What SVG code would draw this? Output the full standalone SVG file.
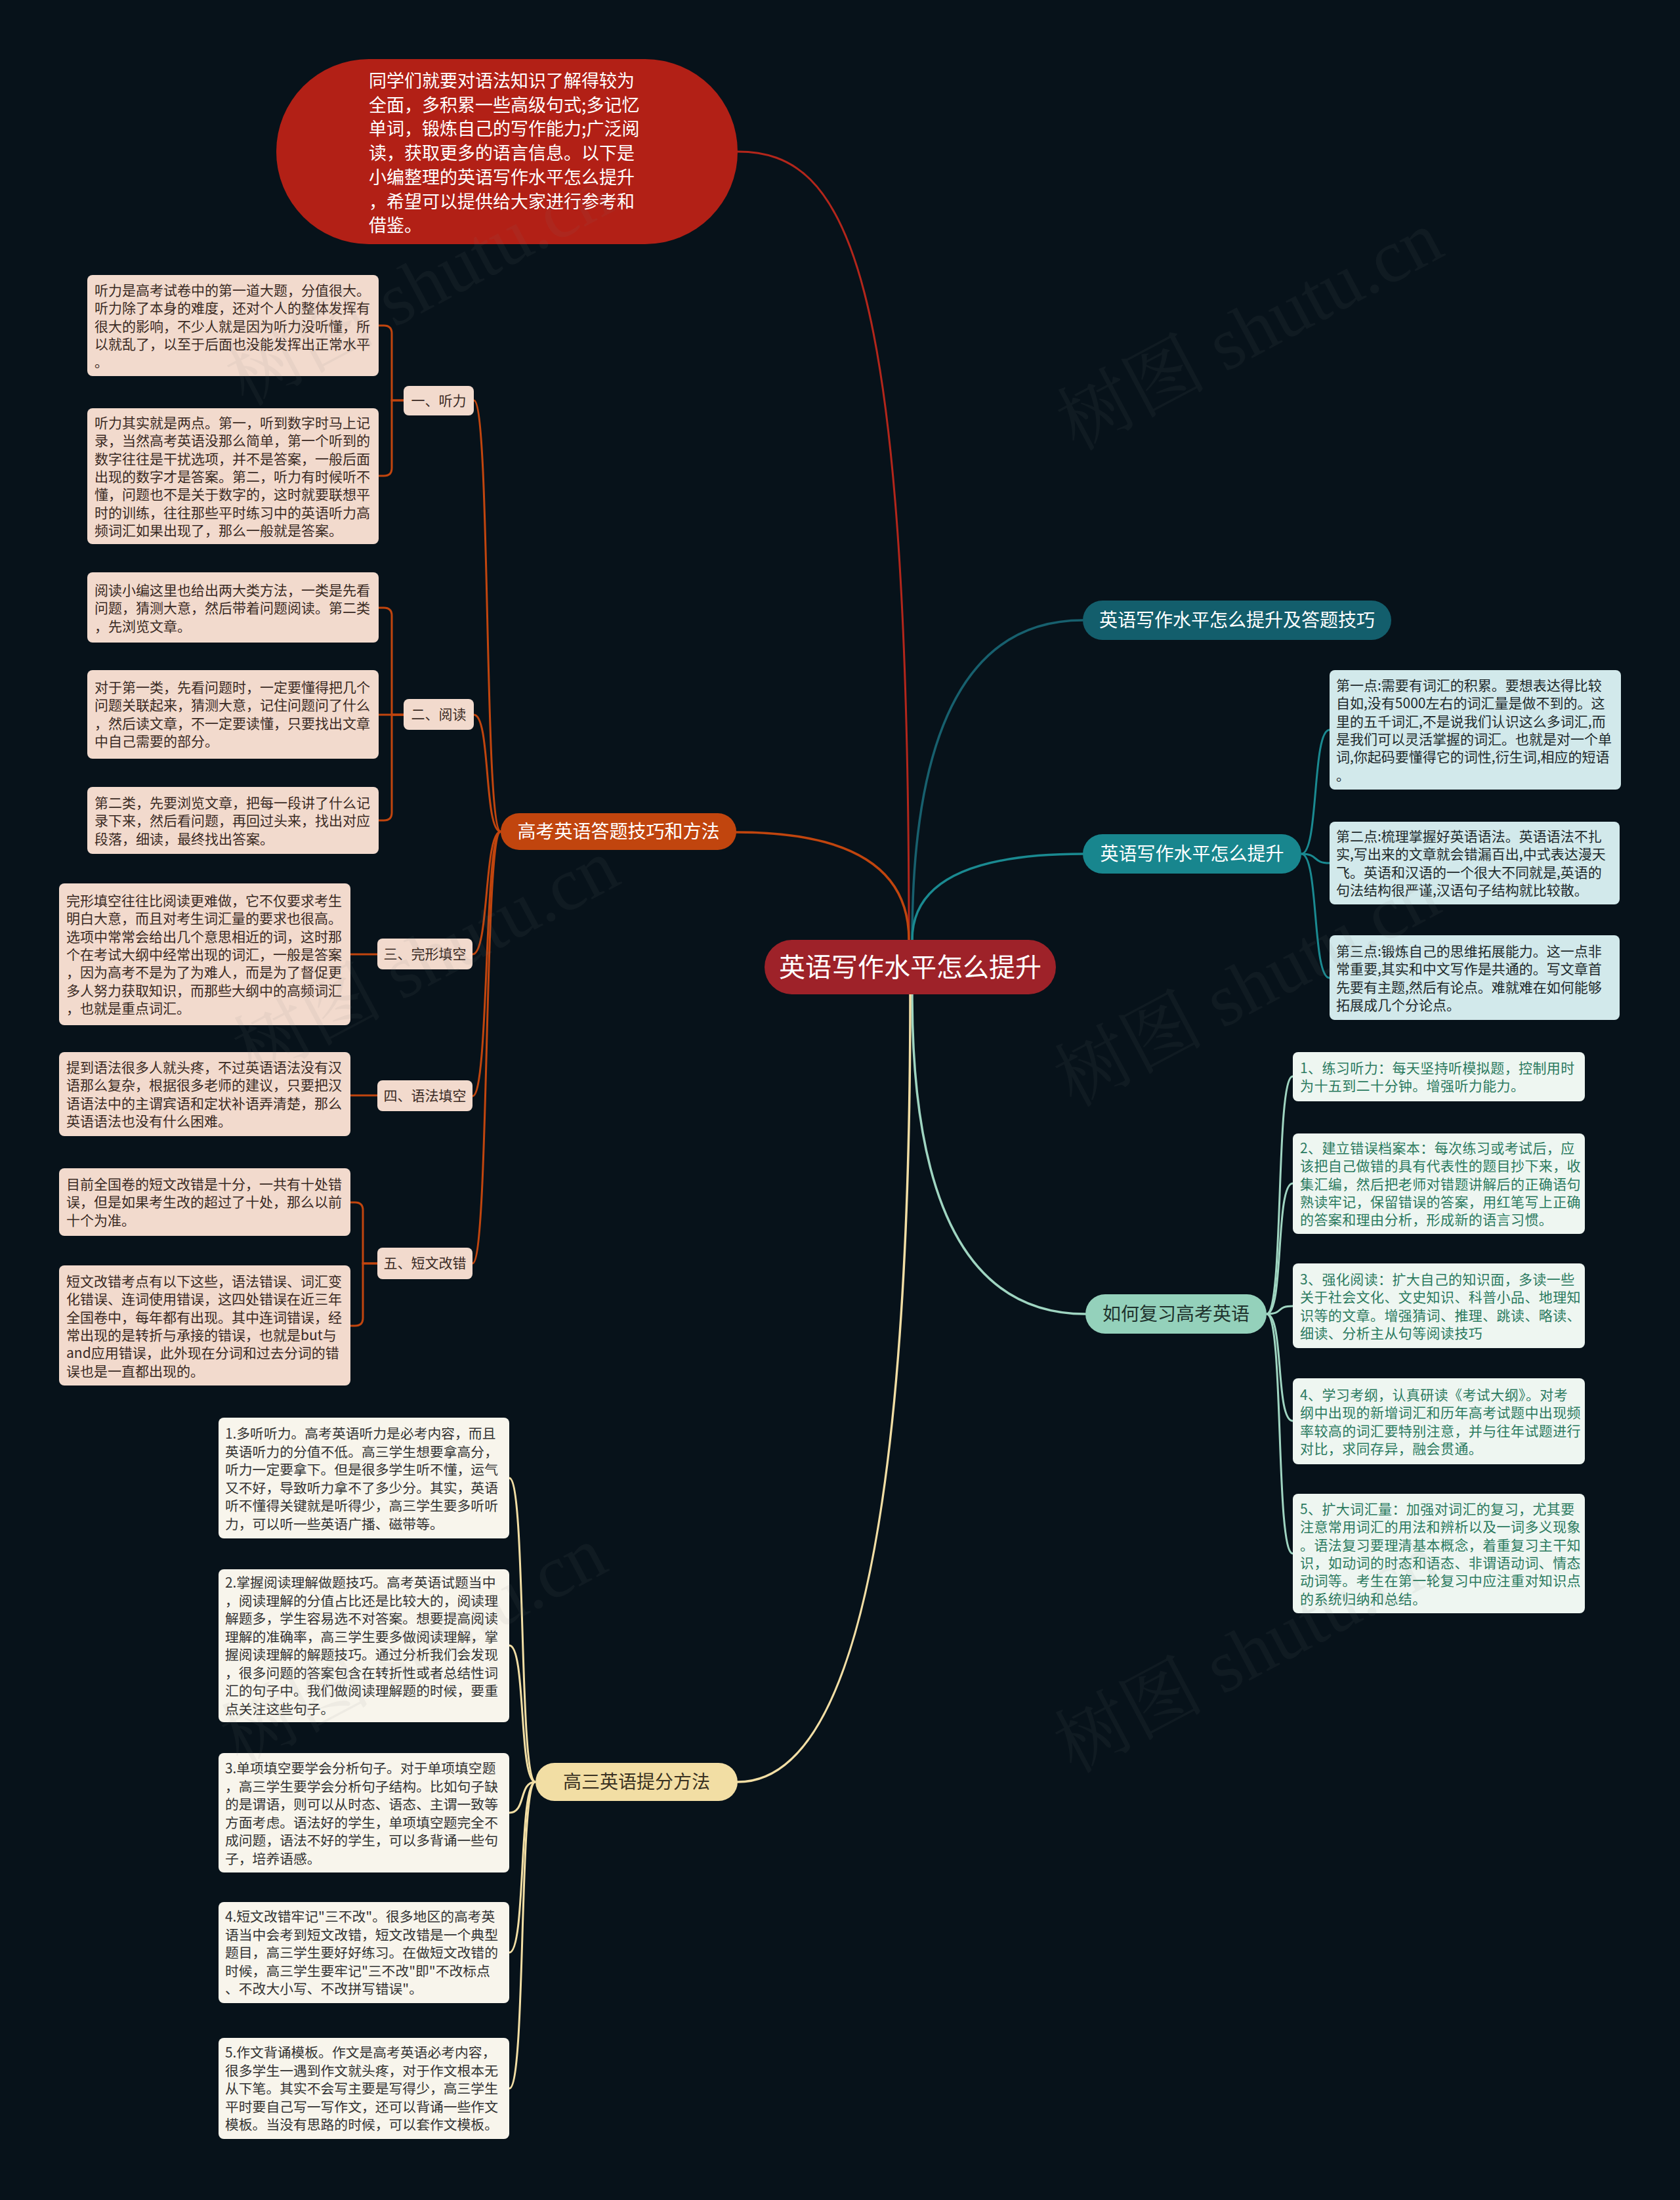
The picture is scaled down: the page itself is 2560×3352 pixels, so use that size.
<svg xmlns="http://www.w3.org/2000/svg" width="2560" height="3352" viewBox="0 0 2560 3352">
<style>
text{font-family:"Noto Sans CJK SC","Noto Sans",sans-serif}
.c{fill:none;stroke-linecap:round}
.leaf{font-size:21px;fill:#3a2a24}
.lo{fill:#f2dacd}
.ly{fill:#f8f5ec}
.lt{fill:#d2e9eb}
.lm{fill:#eef6f1}
.gs{font-size:20.8px;fill:#333}
.gm{font-size:21px;fill:#2b7a5f;letter-spacing:0.4px}
.gt{font-size:21px;fill:#1e2a2c}
.sub{font-size:21px;fill:#3a2a24;text-anchor:middle}
.main{font-size:28px;text-anchor:middle}
.wm{font-family:"Liberation Serif","Noto Serif CJK SC","Noto Sans CJK SC",serif;font-size:114px;fill:#808080;opacity:0.08}
</style>
<rect width="2560" height="3352" fill="#07121a"/>

<g id="connectors">
  <path class="c" d="M1124 231 C1290 231 1385 400 1385 1432" stroke="#b3261b" stroke-width="3"/>
  <path class="c" d="M1122 1268 Q1385 1268 1385 1432" stroke="#c1450e" stroke-width="3.5"/>
  <path class="c" d="M1390 1432 Q1390 945 1650 945" stroke="#17606e" stroke-width="3.5"/>
  <path class="c" d="M1390 1432 Q1390 1301 1650 1301" stroke="#1a8a91" stroke-width="3.5"/>
  <path class="c" d="M1390 1515 Q1390 2002 1654 2002" stroke="#9fd5c1" stroke-width="3.5"/>
  <path class="c" d="M1387 1515 Q1387 2715 1124 2715" stroke="#f2dea4" stroke-width="3.5"/>
  <g stroke="#c1450e" stroke-width="3" fill="none">
    <path d="M763 1267 C737 1267 748 610 722 610"/>
    <path d="M763 1267 C737 1267 748 1089 722 1089"/>
    <path d="M763 1267 C737 1267 746 1454 720 1454"/>
    <path d="M763 1267 C737 1267 746 1670 720 1670"/>
    <path d="M763 1267 C737 1267 746 1925 720 1925"/>
    <path d="M615 610 H597 V508 Q597 496 585 496 H577"/>
    <path d="M615 610 H597 V713 Q597 725 585 725 H577"/>
    <path d="M615 1089 H597 V938 Q597 926 585 926 H577"/>
    <path d="M615 1089 H577"/>
    <path d="M615 1089 H597 V1238 Q597 1250 585 1250 H577"/>
    <path d="M575 1454 H534"/>
    <path d="M575 1669 H534"/>
    <path d="M575 1925 H553 V1844 Q553 1832 541 1832 H534"/>
    <path d="M575 1925 H553 V2008 Q553 2020 541 2020 H534"/>
  </g>
  <g stroke="#1a8a91" stroke-width="3" fill="none">
    <path d="M1983 1301 C2010 1301 1999 1112 2026 1112"/>
    <path d="M1983 1301 C2010 1301 1999 1315 2026 1315"/>
    <path d="M1983 1301 C2010 1301 1999 1490 2026 1490"/>
  </g>
  <g stroke="#9fd5c1" stroke-width="3" fill="none">
    <path d="M1930 2002 C1957 2002 1943 1640 1970 1640"/>
    <path d="M1930 2002 C1957 2002 1943 1803 1970 1803"/>
    <path d="M1930 2002 C1957 2002 1943 1990 1970 1990"/>
    <path d="M1930 2002 C1957 2002 1943 2165 1970 2165"/>
    <path d="M1930 2002 C1957 2002 1943 2367 1970 2367"/>
  </g>
  <g stroke="#f2dea4" stroke-width="3" fill="none">
    <path d="M816 2715 C790 2715 802 2252 776 2252"/>
    <path d="M816 2715 C790 2715 802 2507 776 2507"/>
    <path d="M816 2715 C790 2715 802 2762 776 2762"/>
    <path d="M816 2715 C790 2715 802 2975 776 2975"/>
    <path d="M816 2715 C790 2715 802 3182 776 3182"/>
  </g>
</g>

<g id="center">
  <rect x="1165" y="1432" width="444" height="83" rx="41.5" fill="#9e2229"/>
  <text x="1387" y="1488" font-size="40" fill="#fff" text-anchor="middle">英语写作水平怎么提升</text>
</g>

<g id="intro">
  <rect x="421" y="90" width="703" height="282" rx="141" fill="#b22016"/>
  <text font-size="27" fill="#fff">
    <tspan x="562" y="133">同学们就要对语法知识了解得较为</tspan>
    <tspan x="562" dy="36.7">全面，多积累一些高级句式;多记忆</tspan>
    <tspan x="562" dy="36.7">单词，锻炼自己的写作能力;广泛阅</tspan>
    <tspan x="562" dy="36.7">读，获取更多的语言信息。以下是</tspan>
    <tspan x="562" dy="36.7">小编整理的英语写作水平怎么提升</tspan>
    <tspan x="562" dy="36.7">，希望可以提供给大家进行参考和</tspan>
    <tspan x="562" dy="36.7">借鉴。</tspan>
  </text>
</g>

<g id="b-gaokao">
  <rect x="763" y="1239" width="359" height="56" rx="28" fill="#c1450e"/>
  <text class="main" x="942.5" y="1277" fill="#fff">高考英语答题技巧和方法</text>
</g>
<g id="b-jiqiao">
  <rect x="1650" y="915" width="470" height="60" rx="30" fill="#135e6c"/>
  <text class="main" x="1885" y="955" fill="#fff">英语写作水平怎么提升及答题技巧</text>
</g>
<g id="b-tisheng">
  <rect x="1650" y="1271" width="333" height="60" rx="30" fill="#18868e"/>
  <text class="main" x="1816.5" y="1311" fill="#fff">英语写作水平怎么提升</text>
</g>
<g id="b-fuxi">
  <rect x="1654" y="1972" width="276" height="60" rx="30" fill="#94d1bb"/>
  <text class="main" x="1792" y="2012" fill="#1f332d">如何复习高考英语</text>
</g>
<g id="b-gaosan">
  <rect x="816" y="2686" width="308" height="58" rx="29" fill="#f2dea4"/>
  <text class="main" x="970" y="2725" fill="#3a3222">高三英语提分方法</text>
</g>

<g id="s-tingli">
  <rect class="lo" x="615" y="588" width="107" height="45" rx="8"/>
  <text class="sub" x="668.5" y="618">一、听力</text>
</g>
<g id="s-yuedu">
  <rect class="lo" x="615" y="1065" width="107" height="47" rx="8"/>
  <text class="sub" x="668.5" y="1096">二、阅读</text>
</g>
<g id="s-wanxing">
  <rect class="lo" x="575" y="1430" width="145" height="47" rx="8"/>
  <text class="sub" x="647.5" y="1461">三、完形填空</text>
</g>
<g id="s-yufa">
  <rect class="lo" x="575" y="1646" width="145" height="47" rx="8"/>
  <text class="sub" x="647.5" y="1677">四、语法填空</text>
</g>
<g id="s-gaicuo">
  <rect class="lo" x="575" y="1901" width="145" height="48" rx="8"/>
  <text class="sub" x="647.5" y="1932">五、短文改错</text>
</g>

<g id="l-tingli1">
  <rect class="lo" x="133" y="419" width="444" height="154" rx="8"/>
  <text class="leaf">
    <tspan x="144" y="450">听力是高考试卷中的第一道大题，分值很大。</tspan>
    <tspan x="144" dy="27.3">听力除了本身的难度，还对个人的整体发挥有</tspan>
    <tspan x="144" dy="27.3">很大的影响，不少人就是因为听力没听懂，所</tspan>
    <tspan x="144" dy="27.3">以就乱了，以至于后面也没能发挥出正常水平</tspan>
    <tspan x="144" dy="27.3">。</tspan>
  </text>
</g>
<g id="l-tingli2">
  <rect class="lo" x="133" y="622" width="444" height="207" rx="8"/>
  <text class="leaf">
    <tspan x="144" y="652">听力其实就是两点。第一，听到数字时马上记</tspan>
    <tspan x="144" dy="27.3">录，当然高考英语没那么简单，第一个听到的</tspan>
    <tspan x="144" dy="27.3">数字往往是干扰选项，并不是答案，一般后面</tspan>
    <tspan x="144" dy="27.3">出现的数字才是答案。第二，听力有时候听不</tspan>
    <tspan x="144" dy="27.3">懂，问题也不是关于数字的，这时就要联想平</tspan>
    <tspan x="144" dy="27.3">时的训练，往往那些平时练习中的英语听力高</tspan>
    <tspan x="144" dy="27.3">频词汇如果出现了，那么一般就是答案。</tspan>
  </text>
</g>
<g id="l-yuedu1">
  <rect class="lo" x="133" y="872" width="444" height="107" rx="8"/>
  <text class="leaf">
    <tspan x="144" y="907">阅读小编这里也给出两大类方法，一类是先看</tspan>
    <tspan x="144" dy="27.3">问题，猜测大意，然后带着问题阅读。第二类</tspan>
    <tspan x="144" dy="27.3">，先浏览文章。</tspan>
  </text>
</g>
<g id="l-yuedu2">
  <rect class="lo" x="133" y="1021" width="444" height="135" rx="8"/>
  <text class="leaf">
    <tspan x="144" y="1055">对于第一类，先看问题时，一定要懂得把几个</tspan>
    <tspan x="144" dy="27.3">问题关联起来，猜测大意，记住问题问了什么</tspan>
    <tspan x="144" dy="27.3">，然后读文章，不一定要读懂，只要找出文章</tspan>
    <tspan x="144" dy="27.3">中自己需要的部分。</tspan>
  </text>
</g>
<g id="l-yuedu3">
  <rect class="lo" x="133" y="1199" width="444" height="102" rx="8"/>
  <text class="leaf">
    <tspan x="144" y="1231">第二类，先要浏览文章，把每一段讲了什么记</tspan>
    <tspan x="144" dy="27.3">录下来，然后看问题，再回过头来，找出对应</tspan>
    <tspan x="144" dy="27.3">段落，细读，最终找出答案。</tspan>
  </text>
</g>
<g id="l-wanxing">
  <rect class="lo" x="90" y="1346" width="444" height="216" rx="8"/>
  <text class="leaf">
    <tspan x="101" y="1380">完形填空往往比阅读更难做，它不仅要求考生</tspan>
    <tspan x="101" dy="27.3">明白大意，而且对考生词汇量的要求也很高。</tspan>
    <tspan x="101" dy="27.3">选项中常常会给出几个意思相近的词，这时那</tspan>
    <tspan x="101" dy="27.3">个在考试大纲中经常出现的词汇，一般是答案</tspan>
    <tspan x="101" dy="27.3">，因为高考不是为了为难人，而是为了督促更</tspan>
    <tspan x="101" dy="27.3">多人努力获取知识，而那些大纲中的高频词汇</tspan>
    <tspan x="101" dy="27.3">，也就是重点词汇。</tspan>
  </text>
</g>
<g id="l-yufa">
  <rect class="lo" x="90" y="1603" width="444" height="128" rx="8"/>
  <text class="leaf">
    <tspan x="101" y="1634">提到语法很多人就头疼，不过英语语法没有汉</tspan>
    <tspan x="101" dy="27.3">语那么复杂，根据很多老师的建议，只要把汉</tspan>
    <tspan x="101" dy="27.3">语语法中的主谓宾语和定状补语弄清楚，那么</tspan>
    <tspan x="101" dy="27.3">英语语法也没有什么困难。</tspan>
  </text>
</g>
<g id="l-gaicuo1">
  <rect class="lo" x="90" y="1780" width="444" height="103" rx="8"/>
  <text class="leaf">
    <tspan x="101" y="1812">目前全国卷的短文改错是十分，一共有十处错</tspan>
    <tspan x="101" dy="27.3">误，但是如果考生改的超过了十处，那么以前</tspan>
    <tspan x="101" dy="27.3">十个为准。</tspan>
  </text>
</g>
<g id="l-gaicuo2">
  <rect class="lo" x="90" y="1928" width="444" height="183" rx="8"/>
  <text class="leaf">
    <tspan x="101" y="1960">短文改错考点有以下这些，语法错误、词汇变</tspan>
    <tspan x="101" dy="27.3">化错误、连词使用错误，这四处错误在近三年</tspan>
    <tspan x="101" dy="27.3">全国卷中，每年都有出现。其中连词错误，经</tspan>
    <tspan x="101" dy="27.3">常出现的是转折与承接的错误，也就是but与</tspan>
    <tspan x="101" dy="27.3">and应用错误，此外现在分词和过去分词的错</tspan>
    <tspan x="101" dy="27.3">误也是一直都出现的。</tspan>
  </text>
</g>

<g id="l-gs1">
  <rect class="ly" x="333" y="2160" width="443" height="184" rx="8"/>
  <text class="gs">
    <tspan x="343" y="2192">1.多听听力。高考英语听力是必考内容，而且</tspan>
    <tspan x="343" dy="27.5">英语听力的分值不低。高三学生想要拿高分，</tspan>
    <tspan x="343" dy="27.5">听力一定要拿下。但是很多学生听不懂，运气</tspan>
    <tspan x="343" dy="27.5">又不好，导致听力拿不了多少分。其实，英语</tspan>
    <tspan x="343" dy="27.5">听不懂得关键就是听得少，高三学生要多听听</tspan>
    <tspan x="343" dy="27.5">力，可以听一些英语广播、磁带等。</tspan>
  </text>
</g>
<g id="l-gs2">
  <rect class="ly" x="333" y="2391" width="443" height="233" rx="8"/>
  <text class="gs">
    <tspan x="343" y="2419">2.掌握阅读理解做题技巧。高考英语试题当中</tspan>
    <tspan x="343" dy="27.5">，阅读理解的分值占比还是比较大的，阅读理</tspan>
    <tspan x="343" dy="27.5">解题多，学生容易选不对答案。想要提高阅读</tspan>
    <tspan x="343" dy="27.5">理解的准确率，高三学生要多做阅读理解，掌</tspan>
    <tspan x="343" dy="27.5">握阅读理解的解题技巧。通过分析我们会发现</tspan>
    <tspan x="343" dy="27.5">，很多问题的答案包含在转折性或者总结性词</tspan>
    <tspan x="343" dy="27.5">汇的句子中。我们做阅读理解题的时候，要重</tspan>
    <tspan x="343" dy="27.5">点关注这些句子。</tspan>
  </text>
</g>
<g id="l-gs3">
  <rect class="ly" x="333" y="2671" width="443" height="182" rx="8"/>
  <text class="gs">
    <tspan x="343" y="2702">3.单项填空要学会分析句子。对于单项填空题</tspan>
    <tspan x="343" dy="27.5">，高三学生要学会分析句子结构。比如句子缺</tspan>
    <tspan x="343" dy="27.5">的是谓语，则可以从时态、语态、主谓一致等</tspan>
    <tspan x="343" dy="27.5">方面考虑。语法好的学生，单项填空题完全不</tspan>
    <tspan x="343" dy="27.5">成问题，语法不好的学生，可以多背诵一些句</tspan>
    <tspan x="343" dy="27.5">子，培养语感。</tspan>
  </text>
</g>
<g id="l-gs4">
  <rect class="ly" x="333" y="2898" width="443" height="154" rx="8"/>
  <text class="gs">
    <tspan x="343" y="2928">4.短文改错牢记"三不改"。很多地区的高考英</tspan>
    <tspan x="343" dy="27.5">语当中会考到短文改错，短文改错是一个典型</tspan>
    <tspan x="343" dy="27.5">题目，高三学生要好好练习。在做短文改错的</tspan>
    <tspan x="343" dy="27.5">时候，高三学生要牢记"三不改"即"不改标点</tspan>
    <tspan x="343" dy="27.5">、不改大小写、不改拼写错误"。</tspan>
  </text>
</g>
<g id="l-gs5">
  <rect class="ly" x="333" y="3105" width="443" height="154" rx="8"/>
  <text class="gs">
    <tspan x="343" y="3135">5.作文背诵模板。作文是高考英语必考内容，</tspan>
    <tspan x="343" dy="27.5">很多学生一遇到作文就头疼，对于作文根本无</tspan>
    <tspan x="343" dy="27.5">从下笔。其实不会写主要是写得少，高三学生</tspan>
    <tspan x="343" dy="27.5">平时要自己写一写作文，还可以背诵一些作文</tspan>
    <tspan x="343" dy="27.5">模板。当没有思路的时候，可以套作文模板。</tspan>
  </text>
</g>

<g id="l-dian1">
  <rect class="lt" x="2026" y="1021" width="444" height="182" rx="8"/>
  <text class="gt">
    <tspan x="2036" y="1052">第一点:需要有词汇的积累。要想表达得比较</tspan>
    <tspan x="2036" dy="27.3">自如,没有5000左右的词汇量是做不到的。这</tspan>
    <tspan x="2036" dy="27.3">里的五千词汇,不是说我们认识这么多词汇,而</tspan>
    <tspan x="2036" dy="27.3">是我们可以灵活掌握的词汇。也就是对一个单</tspan>
    <tspan x="2036" dy="27.3">词,你起码要懂得它的词性,衍生词,相应的短语</tspan>
    <tspan x="2036" dy="27.3">。</tspan>
  </text>
</g>
<g id="l-dian2">
  <rect class="lt" x="2026" y="1252" width="442" height="126" rx="8"/>
  <text class="gt">
    <tspan x="2036" y="1282">第二点:梳理掌握好英语语法。英语语法不扎</tspan>
    <tspan x="2036" dy="27.3">实,写出来的文章就会错漏百出,中式表达漫天</tspan>
    <tspan x="2036" dy="27.3">飞。英语和汉语的一个很大不同就是,英语的</tspan>
    <tspan x="2036" dy="27.3">句法结构很严谨,汉语句子结构就比较散。</tspan>
  </text>
</g>
<g id="l-dian3">
  <rect class="lt" x="2026" y="1425" width="442" height="129" rx="8"/>
  <text class="gt">
    <tspan x="2036" y="1457">第三点:锻炼自己的思维拓展能力。这一点非</tspan>
    <tspan x="2036" dy="27.3">常重要,其实和中文写作是共通的。写文章首</tspan>
    <tspan x="2036" dy="27.3">先要有主题,然后有论点。难就难在如何能够</tspan>
    <tspan x="2036" dy="27.3">拓展成几个分论点。</tspan>
  </text>
</g>

<g id="l-fx1">
  <rect class="lm" x="1970" y="1603" width="445" height="75" rx="8"/>
  <text class="gm">
    <tspan x="1981" y="1635">1、练习听力：每天坚持听模拟题，控制用时</tspan>
    <tspan x="1981" dy="27.3">为十五到二十分钟。增强听力能力。</tspan>
  </text>
</g>
<g id="l-fx2">
  <rect class="lm" x="1970" y="1727" width="445" height="153" rx="8"/>
  <text class="gm">
    <tspan x="1981" y="1757">2、建立错误档案本：每次练习或考试后，应</tspan>
    <tspan x="1981" dy="27.3">该把自己做错的具有代表性的题目抄下来，收</tspan>
    <tspan x="1981" dy="27.3">集汇编，然后把老师对错题讲解后的正确语句</tspan>
    <tspan x="1981" dy="27.3">熟读牢记，保留错误的答案，用红笔写上正确</tspan>
    <tspan x="1981" dy="27.3">的答案和理由分析，形成新的语言习惯。</tspan>
  </text>
</g>
<g id="l-fx3">
  <rect class="lm" x="1970" y="1925" width="445" height="129" rx="8"/>
  <text class="gm">
    <tspan x="1981" y="1957">3、强化阅读：扩大自己的知识面，多读一些</tspan>
    <tspan x="1981" dy="27.3">关于社会文化、文史知识、科普小品、地理知</tspan>
    <tspan x="1981" dy="27.3">识等的文章。增强猜词、推理、跳读、略读、</tspan>
    <tspan x="1981" dy="27.3">细读、分析主从句等阅读技巧</tspan>
  </text>
</g>
<g id="l-fx4">
  <rect class="lm" x="1970" y="2100" width="445" height="131" rx="8"/>
  <text class="gm">
    <tspan x="1981" y="2133">4、学习考纲，认真研读《考试大纲》。对考</tspan>
    <tspan x="1981" dy="27.3">纲中出现的新增词汇和历年高考试题中出现频</tspan>
    <tspan x="1981" dy="27.3">率较高的词汇要特别注意，并与往年试题进行</tspan>
    <tspan x="1981" dy="27.3">对比，求同存异，融会贯通。</tspan>
  </text>
</g>
<g id="l-fx5">
  <rect class="lm" x="1970" y="2276" width="445" height="182" rx="8"/>
  <text class="gm">
    <tspan x="1981" y="2307">5、扩大词汇量：加强对词汇的复习，尤其要</tspan>
    <tspan x="1981" dy="27.3">注意常用词汇的用法和辨析以及一词多义现象</tspan>
    <tspan x="1981" dy="27.3">。语法复习要理清基本概念，着重复习主干知</tspan>
    <tspan x="1981" dy="27.3">识，如动词的时态和语态、非谓语动词、情态</tspan>
    <tspan x="1981" dy="27.3">动词等。考生在第一轮复习中应注重对知识点</tspan>
    <tspan x="1981" dy="27.3">的系统归纳和总结。</tspan>
  </text>
</g>

<g id="watermark">
  <text class="wm" transform="translate(374 620) rotate(-28)">树图 shutu.cn</text>
  <text class="wm" transform="translate(1640 688) rotate(-28)">树图 shutu.cn</text>
  <text class="wm" transform="translate(385 1645) rotate(-28)">树图 shutu.cn</text>
  <text class="wm" transform="translate(1636 1688) rotate(-28)">树图 shutu.cn</text>
  <text class="wm" transform="translate(366 2692) rotate(-28)">树图 shutu.cn</text>
  <text class="wm" transform="translate(1636 2703) rotate(-28)">树图 shutu.cn</text>
</g>
</svg>
